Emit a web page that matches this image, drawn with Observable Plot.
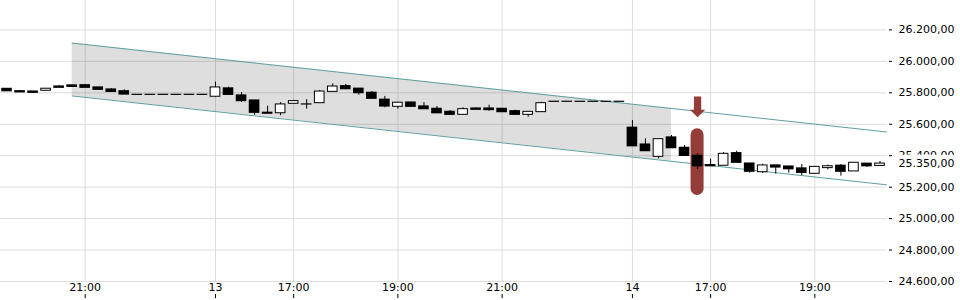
<!DOCTYPE html>
<html><head><meta charset="utf-8">
<script src="https://cdn.jsdelivr.net/npm/d3@7"></script>
<script src="https://cdn.jsdelivr.net/npm/@observablehq/plot@0.6"></script>
<style>body{margin:0;background:#fff}</style>
</head><body><div id="chart"></div>
<script>
// 15-minute candles, index 0 = first candle
const open  = [25825,25810,25808,25813,25840,25847,25848,25834,25821,25810,
  25787,25787,25787,25787,25787,25787,
  25775,25828,25783,25751,25673,25670,25730,25726,25734,25806,
  25842,25826,25800,25756,25711,25738,25713,25698,25679,25660,
  25700,25700,25698,25683,25660,25677,
  25743,25743,25743,25743,25743,25743,
  25578,25471,25393,25516,25450,25399,25340,25336,25416,25350,
  25295,25338,25331,25319,25285,25321,25336,25300,25349,25335];
const high  = [25825,25815,25808,25826,25847,25847,25853,25834,25826,25819,
  25787,25787,25787,25787,25787,25787,
  25868,25836,25802,25751,25715,25738,25752,25756,25815,25857,
  25853,25826,25808,25777,25737,25738,25738,25713,25687,25705,
  25705,25721,25698,25689,25679,25740,
  25743,25743,25743,25743,25743,25743,
  25624,25508,25505,25529,25465,25412,25378,25420,25429,25350,
  25346,25338,25331,25344,25329,25340,25344,25355,25349,25363];
const low   = [25810,25803,25797,25813,25832,25838,25832,25819,25806,25789,
  25787,25787,25787,25787,25787,25787,
  25773,25787,25738,25658,25667,25654,25730,25696,25734,25806,
  25823,25785,25762,25705,25696,25711,25696,25670,25660,25660,
  25692,25683,25677,25660,25645,25677,
  25743,25743,25743,25743,25743,25743,
  25460,25429,25380,25448,25399,25312,25333,25336,25355,25289,
  25287,25283,25289,25274,25285,25310,25270,25300,25325,25335];
const close = [25810,25803,25800,25826,25832,25838,25832,25819,25806,25789,
  25787,25787,25787,25787,25787,25787,
  25834,25787,25747,25673,25667,25726,25747,25726,25808,25840,
  25823,25798,25762,25713,25737,25711,25696,25670,25660,25696,
  25692,25690,25677,25660,25679,25734,
  25743,25743,25743,25743,25743,25743,
  25460,25429,25505,25448,25399,25333,25333,25412,25355,25298,
  25338,25325,25314,25291,25329,25333,25298,25355,25333,25350];

const xTickIdx = [6, 16, 22, 30, 38, 48, 54, 62];
const xTickLabels = ["21:00", "13", "17:00", "19:00", "21:00", "14", "17:00", "19:00"];
const yTicks = [24600, 24800, 25000, 25200, 25400, 25600, 25800, 26000, 26200];

// trend channel (candle index, price)
const upperLine = [{i: 5, p: 26116}, {i: 67.5, p: 25551}];
const lowerLine = [{i: 5, p: 25780}, {i: 67.5, p: 25215}];
const shade = [{i: 5, hi: 26116, lo: 25780}, {i: 51, hi: 25700, lo: 25364}];

// signal marker
const markerIdx = 53;
const markerBar = [{i: 53, lo: 25147, hi: 25571}];
const arrowShape = [
  {dx: -0.28, p: 25776}, {dx: 0.28, p: 25776}, {dx: 0.28, p: 25692}, {dx: 0.59, p: 25692},
  {dx: 0, p: 25645}, {dx: -0.59, p: 25692}, {dx: -0.28, p: 25692}
];
const lastPrice = [close[close.length - 1]];

const fmt = d3.formatLocale({decimal: ",", thousands: ".", grouping: [3], currency: ["", ""]}).format(",.2f");
const labelMap = new Map(xTickIdx.map((d, i) => [d, xTickLabels[i]]));

const rows = open.map((o, i) => ({i, open: o, high: high[i], low: low[i], close: close[i], up: close[i] > o}));
const red = "#943c37";
const teal = "#5e9ea3";
const grid = "#dcdcdc";

const chart = Plot.plot({
  width: 960,
  height: 300,
  marginLeft: 0,
  marginRight: 74,
  marginTop: 0,
  marginBottom: 19,
  style: {fontFamily: "DejaVu Sans", fontSize: "11px", background: "white", color: "black", overflow: "visible"},
  x: {domain: [-0.5, 67.5], label: null},
  y: {domain: [24600, 26387], label: null},
  marks: [
    Plot.gridY(yTicks, {stroke: grid, strokeOpacity: 1}),
    Plot.gridX(xTickIdx, {stroke: grid, strokeOpacity: 1}),
    Plot.areaY(shade, {x: "i", y1: "lo", y2: "hi", fill: "black", fillOpacity: 0.13}),
    Plot.line(upperLine, {x: "i", y: "p", stroke: teal, strokeWidth: 1}),
    Plot.line(lowerLine, {x: "i", y: "p", stroke: teal, strokeWidth: 1}),
    Plot.rect(markerBar, {x1: d => d.i - 0.5, x2: d => d.i + 0.5, y1: "lo", y2: "hi", fill: red, rx: 6.5}),
    Plot.line(arrowShape, {x: d => markerIdx + d.dx, y: "p", fill: red, stroke: "none"}),
    Plot.ruleX(rows, {x: "i", y1: "low", y2: "high", stroke: "black", strokeWidth: 1}),
    Plot.rect(rows.filter(d => !d.up), {x1: d => d.i - 0.5, x2: d => d.i + 0.5, y1: "open", y2: "close",
      fill: "black", insetLeft: 1.2, insetRight: 1.2, insetTop: -0.6, insetBottom: -0.6}),
    Plot.rect(rows.filter(d => d.up), {x1: d => d.i - 0.5, x2: d => d.i + 0.5, y1: "open", y2: "close",
      fill: "white", stroke: "black", strokeWidth: 1, insetLeft: 1.7, insetRight: 1.7}),
    Plot.axisY(yTicks, {anchor: "right", tickSize: 3, tickPadding: 7, dx: 2, tickFormat: fmt, label: null}),
    Plot.axisX(xTickIdx, {anchor: "bottom", tickSize: 0, tickPadding: 2, tickFormat: d => labelMap.get(d), label: null}),
    Plot.axisX(xTickIdx, {anchor: "bottom", tickSize: 4, dy: 13, tickFormat: () => "", label: null}),
    Plot.text(lastPrice, {y: d => d, frameAnchor: "right", dx: 12, textAnchor: "start", text: d => fmt(d),
      fill: "black", stroke: "white", strokeWidth: 9})
  ]
});
document.getElementById("chart").appendChild(chart);
</script></body></html>
